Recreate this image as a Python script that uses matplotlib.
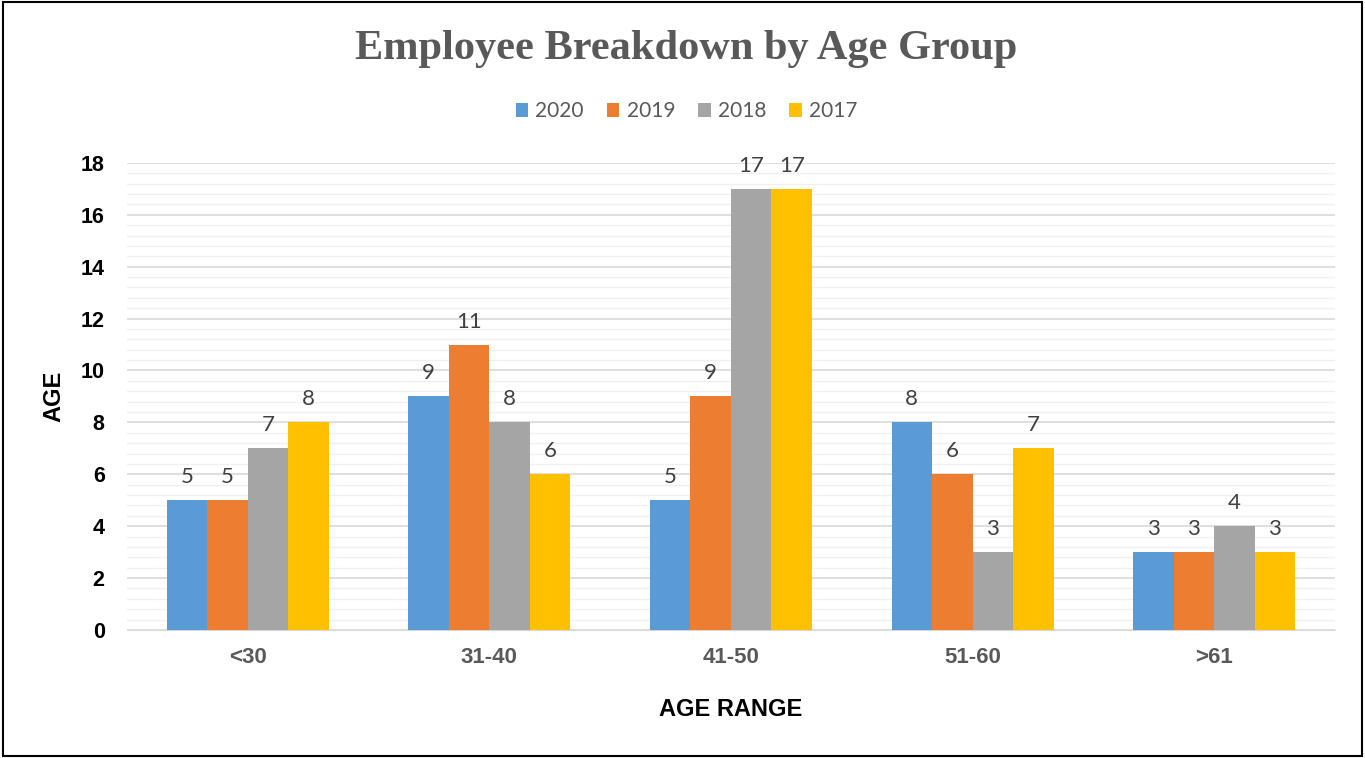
import numpy as np
import matplotlib.pyplot as plt
from matplotlib.ticker import MultipleLocator

categories = ["<30", "31-40", "41-50", "51-60", ">61"]
years = ["2020", "2019", "2018", "2017"]
counts_2020 = [5, 9, 5, 8, 3]
counts_2019 = [5, 11, 9, 6, 3]
counts_2018 = [7, 8, 17, 3, 4]
counts_2017 = [8, 6, 17, 7, 3]

series = [counts_2020, counts_2019, counts_2018, counts_2017]
colors = ["#5b9bd5", "#ed7d31", "#a5a5a5", "#ffc000"]

plt.rcParams['font.family'] = ['Lato', 'DejaVu Sans']
BOLD = ['Liberation Sans', 'DejaVu Sans']

fig = plt.figure(figsize=(13.65, 7.58), dpi=100)
ax = fig.add_axes([0.093, 0.169, 0.885, 0.616])

x = np.arange(len(categories))
width = 0.1675
for i, (vals, yr) in enumerate(zip(series, years)):
    pos = x + (i - 1.5) * width
    bars = ax.bar(pos, vals, width, color=colors[i], label=yr, zorder=3)
    for b, v in zip(bars, vals):
        ax.text(b.get_x() + b.get_width() / 2, v + 0.5, str(v),
                ha="center", va="bottom", fontsize=16, color="#404040")

ax.set_xlim(-0.5, len(categories) - 0.5)
ax.set_ylim(0, 18)
ax.yaxis.set_major_locator(MultipleLocator(2))
ax.yaxis.set_minor_locator(MultipleLocator(0.4))
ax.grid(axis="y", which="major", color="#d9d9d9", linewidth=1.2, zorder=0)
ax.grid(axis="y", which="minor", color="#f0f0f0", linewidth=1.0, zorder=0)
ax.tick_params(axis="both", which="both", length=0)
ax.tick_params(axis="y", pad=16)
ax.tick_params(axis="x", pad=12)
for s in ["top", "right", "left"]:
    ax.spines[s].set_visible(False)
ax.spines["bottom"].set_color("#d9d9d9")

ax.set_xticks(x)
ax.set_xticklabels(categories, fontsize=16, fontweight="bold", color="#595959", family=BOLD)
for lab in ax.get_yticklabels():
    lab.set_fontsize(15.5)
    lab.set_fontweight("bold")
    lab.set_color("black")
    lab.set_family(BOLD)

ax.set_ylabel("AGE", fontsize=17, fontweight="bold", labelpad=11, family=BOLD)
ax.set_xlabel("AGE RANGE", fontsize=17, fontweight="bold", labelpad=22, family=BOLD)

fig.text(0.503, 0.936, "Employee Breakdown by Age Group", ha="center", va="center",
         fontsize=30.5, fontweight="bold", color="#595959",
         family=["Liberation Serif", "DejaVu Serif"])

leg = fig.legend(loc="center", bbox_to_anchor=(0.503, 0.853), ncol=4, frameon=False,
                 fontsize=15, handlelength=0.6, handleheight=0.6,
                 handletextpad=0.35, columnspacing=1.1)
for t in leg.get_texts():
    t.set_color("#595959")

fig.patches.append(plt.Rectangle((0.002, 0.002), 0.996, 0.996, transform=fig.transFigure,
                                 fill=False, edgecolor="black", linewidth=1.5))

fig.savefig("out.png", dpi=100)
